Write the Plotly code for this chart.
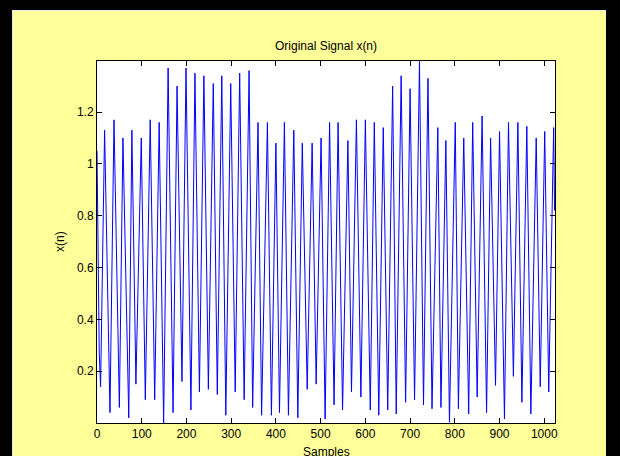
import plotly.graph_objects as go

# ---- data (sample index, value at extrema / kinks) ----
samples = [0, 3, 5, 8, 17, 29, 38, 50, 58, 71, 78, 87, 99, 108, 119, 129, 139, 149,
           159, 170, 179, 190, 199, 210, 219, 229, 239, 249, 260, 269, 279, 288, 299, 309,
           319, 329, 340, 348, 360, 368, 381, 390, 400, 408, 419, 428, 440, 449, 459, 470,
           481, 490, 501, 510, 520, 530, 539, 549, 561, 569, 580, 590, 600, 611, 620, 630,
           640, 650, 661, 669, 680, 690, 700, 710, 721, 730, 740, 749, 762, 769, 780, 788,
           801, 808, 820, 831, 840, 850, 861, 871, 880, 891, 900, 911, 920, 931, 941, 950,
           961, 970, 982, 991, 1001, 1010, 1021, 1023]
values = [1.05, 0.53, 0.27, 0.14, 1.13, 0.04, 1.17, 0.06, 1.10, 0.02, 1.13, 0.15, 1.10, 0.09,
          1.17, 0.09, 1.16, 0.0,
          1.37, 0.04, 1.30, 0.16, 1.37, 0.05, 1.35, 0.12, 1.34, 0.13, 1.31, 0.11, 1.34, 0.03,
          1.31, 0.12, 1.35, 0.09, 1.36, 0.06, 1.16, 0.03, 1.16, 0.03, 1.08, 0.04, 1.16, 0.03,
          1.13, 0.02, 1.08, 0.13, 1.08, 0.15, 1.10, 0.015, 1.16, 0.07, 1.16, 0.05, 1.09, 0.12,
          1.17, 0.10, 1.17, 0.05, 1.16, 0.03, 1.14, 0.05, 1.30, 0.035, 1.34, 0.08, 1.29, 0.09,
          1.397, 0.07, 1.33, 0.055, 1.14, 0.06, 1.09, 0.003, 1.16, 0.055, 1.10, 0.035, 1.16,
          0.10, 1.185, 0.04, 1.10, 0.145, 1.125, 0.016, 1.16, 0.18, 1.16, 0.08, 1.145, 0.035,
          1.10, 0.14, 1.125, 0.12, 1.14, 0.82]

x_tick_vals = [0, 100, 200, 300, 400, 500, 600, 700, 800, 900, 1000]
y_tick_vals = [0.2, 0.4, 0.6, 0.8, 1.0, 1.2]
y_tick_text = ["0.2", "0.4", "0.6", "0.8", "1", "1.2"]
title_text = "Original Signal x(n)"
x_label = "Samples"
y_label = "x(n)"
x_limits = [0, 1024]

# ---- layout geometry (pixels) ----
W, H = 620, 456
L, R, T, B = 97, 65, 61, 33
PW, PH = W - L - R, H - T - B


def px_x(p):
    return (p - L) / PW


def px_y(p):
    return (H - B - p) / PH


FONT = "Liberation Sans, Arial, Helvetica, sans-serif"
YELLOW = "#FFFF99"

fig = go.Figure()
fig.add_trace(go.Scatter(x=samples, y=values, mode="lines",
                         line=dict(color="#0000FF", width=1), hoverinfo="skip"))

axis_common = dict(showline=True, linecolor="black", linewidth=1, mirror="allticks",
                   ticks="inside", ticklen=5, tickcolor="black", tickwidth=1,
                   showgrid=False, zeroline=False,
                   tickfont=dict(family=FONT, size=12, color="black"))

fig.update_xaxes(range=x_limits, tickvals=x_tick_vals, **axis_common)
fig.update_yaxes(range=[min(values), max(values)], tickvals=y_tick_vals,
                 ticktext=y_tick_text, **axis_common)

shapes = [
    # black outer frame strips
    dict(type="rect", xref="paper", yref="paper", layer="below", line=dict(width=0),
         fillcolor="black", x0=px_x(0), x1=px_x(12), y0=px_y(H), y1=px_y(0)),
    dict(type="rect", xref="paper", yref="paper", layer="below", line=dict(width=0),
         fillcolor="black", x0=px_x(0), x1=px_x(W), y0=px_y(10), y1=px_y(0)),
    dict(type="rect", xref="paper", yref="paper", layer="below", line=dict(width=0),
         fillcolor="black", x0=px_x(606), x1=px_x(W), y0=px_y(H), y1=px_y(0)),
    # thin light edge between frame and figure
    dict(type="line", xref="paper", yref="paper", layer="below",
         line=dict(color="#E8E8E8", width=1),
         x0=px_x(12.5), x1=px_x(12.5), y0=px_y(H), y1=px_y(10.5)),
    dict(type="line", xref="paper", yref="paper", layer="below",
         line=dict(color="#E8E8E8", width=1),
         x0=px_x(12.5), x1=px_x(605.5), y0=px_y(10.5), y1=px_y(10.5)),
]

annotations = [
    dict(text=title_text, xref="paper", yref="paper", x=0.5, y=1, xanchor="center",
         yanchor="bottom", yshift=6, showarrow=False,
         font=dict(family=FONT, size=12, color="black")),
    dict(text=x_label, xref="paper", yref="paper", x=0.5, y=0, xanchor="center",
         yanchor="top", yshift=-20, showarrow=False,
         font=dict(family=FONT, size=12, color="black")),
    dict(text=y_label, xref="paper", yref="paper", x=0, y=0.5, xanchor="center",
         yanchor="middle", xshift=-37, textangle=-90, showarrow=False,
         font=dict(family=FONT, size=12, color="black")),
]

fig.update_layout(width=W, height=H, autosize=False,
                  margin=dict(l=L, r=R, t=T, b=B, pad=0),
                  paper_bgcolor=YELLOW, plot_bgcolor="white",
                  showlegend=False, shapes=shapes, annotations=annotations,
                  font=dict(family=FONT, size=12, color="black"))

fig.write_html("out.html", config={"displayModeBar": False},
               post_script="document.body.style.margin='0';"
                           "document.body.style.overflow='hidden';")
